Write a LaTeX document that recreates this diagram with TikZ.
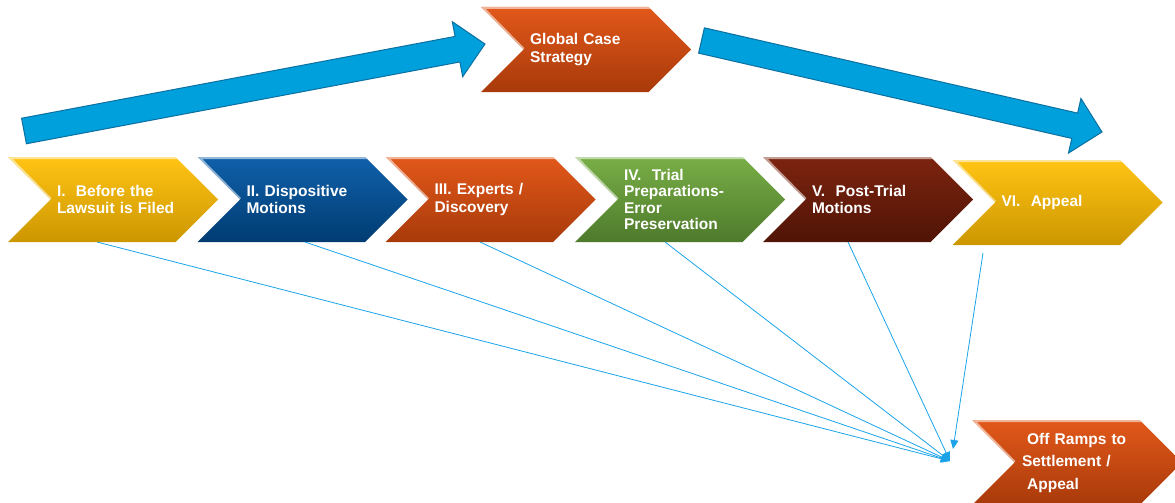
\documentclass[tikz,border=0pt]{standalone}
\usepackage{fontspec}
\setmainfont{Liberation Sans}
\usetikzlibrary{shapes.symbols, arrows.meta, calc}
\definecolor{StepYellowTop}{RGB}{255, 196, 20}
\definecolor{StepYellowBot}{RGB}{204, 150, 0}
\definecolor{StepBlueTop}{RGB}{16, 96, 170}
\definecolor{StepBlueBot}{RGB}{0, 60, 114}
\definecolor{StepOrangeTop}{RGB}{226, 88, 26}
\definecolor{StepOrangeBot}{RGB}{168, 58, 10}
\definecolor{StepGreenTop}{RGB}{120, 174, 70}
\definecolor{StepGreenBot}{RGB}{78, 122, 44}
\definecolor{StepRedTop}{RGB}{124, 36, 16}
\definecolor{StepRedBot}{RGB}{80, 20, 5}
\definecolor{FlowBlue}{RGB}{0, 160, 221}
\definecolor{FlowEdge}{RGB}{12, 112, 160}
\definecolor{RampLine}{RGB}{26, 163, 232}

\tikzset{
  stepbox/.style={signal, signal from=west, signal to=east, signal pointer angle=90,
    minimum width=210pt, minimum height=85pt, outer sep=0pt, inner sep=0pt,
    text width=112pt, align=left, text=white,
    font=\fontsize{15.5}{17.5}\selectfont\bfseries,
    path picture={
      \draw[white, opacity=0.55, line width=4pt]
        ([xshift=42pt]path picture bounding box.west) -- (path picture bounding box.north west)
        -- (path picture bounding box.north east);
    }},
  yellowstep/.style={stepbox, top color=StepYellowTop, bottom color=StepYellowBot},
  bluestep/.style={stepbox, top color=StepBlueTop, bottom color=StepBlueBot},
  orangestep/.style={stepbox, top color=StepOrangeTop, bottom color=StepOrangeBot},
  greenstep/.style={stepbox, top color=StepGreenTop, bottom color=StepGreenBot},
  redstep/.style={stepbox, top color=StepRedTop, bottom color=StepRedBot},
  rampline/.style={RampLine, line width=0.8pt, -{Triangle[length=9pt, width=8pt]}}
}

% wide block arrow from #1 (tail) to #2 (tip)
\newcommand{\flowarrow}[2]{
  \coordinate (fa-base) at ($(#2)!28pt!(#1)$);
  \filldraw[fill=FlowBlue, draw=FlowEdge, line width=1pt, line join=miter]
    ($(#1)!13pt!90:(#2)$) -- ($(fa-base)!13pt!-90:(#1)$) -- ($(fa-base)!28pt!-90:(#1)$)
    -- (#2) -- ($(fa-base)!28pt!90:(#1)$) -- ($(fa-base)!13pt!90:(#1)$)
    -- ($(#1)!13pt!-90:(#2)$) -- cycle;
}

\begin{document}
\begin{tikzpicture}[x=1pt, y=-1pt]
  \useasboundingbox (0,0) rectangle (1175,503);
  \clip (0,0) rectangle (1175,503);

  % overall strategy arrows
  \coordinate (upTail) at (24,131);
  \coordinate (upTip) at (485,44);
  \coordinate (downTail) at (701.5,40.5);
  \coordinate (downTip) at (1102,132);
  \flowarrow{upTail}{upTip}
  \flowarrow{downTail}{downTip}

  \node[orangestep] (global) at (586,49.5) {Global Case\\Strategy};

  % litigation phases
  \node[yellowstep] (before) at (113,199.5) {I.\ \ Before the\\\mbox{Lawsuit is Filed}};
  \node[bluestep] (dispositive) at (302.5,199.5) {II. Dispositive\\Motions};
  \node[orangestep] (experts) at (490.5,199.5) {III. Experts /\\Discovery};
  \node[greenstep, font=\fontsize{15.5}{16.5}\selectfont\bfseries] (trial) at (680,199.5)
    {IV.\ \ Trial\\Preparations-\\Error\\Preservation};
  \node[redstep] (posttrial) at (868,199.5) {V.\ \ Post-Trial\\Motions};
  \node[yellowstep] (appeal) at (1057.5,202.5) {VI.\ \ Appeal};

  \node[orangestep, text width=110pt, font=\fontsize{15.5}{22.5}\selectfont\bfseries]
    (offramp) at (1077,462.5) {\ Off Ramps to\\Settlement /\\\ Appeal};

  % off ramps
  \coordinate (ramp) at (950,461);
  \coordinate (rampLast) at (953,449);
  \draw[rampline] ([shift={(-16,0)}]before.south) -- (ramp);
  \draw[rampline] ([shift={(2.5,0)}]dispositive.south) -- (ramp);
  \draw[rampline] ([shift={(-10.5,0)}]experts.south) -- (ramp);
  \draw[rampline] ([shift={(-15,0)}]trial.south) -- (ramp);
  \draw[rampline] ([shift={(-20,0)}]posttrial.south) -- (ramp);
  \draw[rampline] ([shift={(-74.5,8)}]appeal.south) -- (rampLast);
\end{tikzpicture}
\end{document}
